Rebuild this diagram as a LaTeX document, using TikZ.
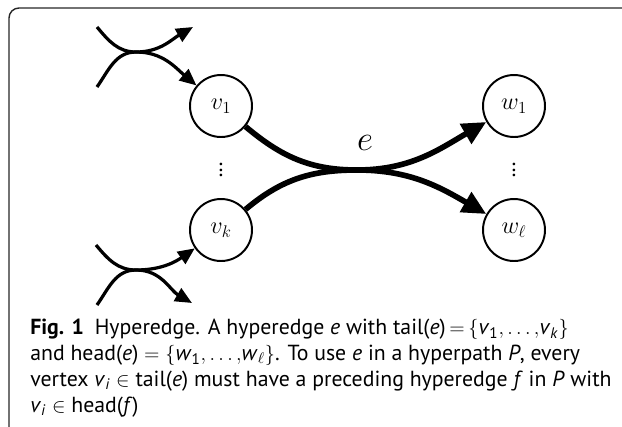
\documentclass[tikz,border=0pt]{standalone}
\usepackage{fontspec}
\setmainfont{PT Sans}
\usepackage{tikz}
\usetikzlibrary{
    arrows.meta,
    positioning
}
\newcommand{\sub}[2]{\textit{#1}\textsubscript{#2}}

\begin{document}
\begin{tikzpicture} [
    vertex/.style={circle,draw=black,line width=1.4pt,fill=white,
                  inner sep=0pt,minimum size=15.5mm,font=\fontsize{18}{22}\selectfont},
    hyper/.style={line width=4pt,-{Triangle[length=6mm,width=5.5mm]}},
    feed/.style={line width=2.3pt,-{Triangle[length=4.2mm,width=3.6mm]}},
    caption/.style={align=left,inner sep=0pt,
                  font=\fontsize{15.5}{18.4}\selectfont}
]
    \useasboundingbox (0,0) rectangle (15.55,-10.675);
    % outer frame, cut off at the right and bottom
    \begin{scope}
        \clip (0,0) rectangle (15.55,-10.675);
        \draw[black!85,line width=1pt,rounded corners=2.5mm]
            (0.225,-0.2) rectangle (16.5,-11.5);
    \end{scope}

    \node[vertex] (v1) at ( 5.525,-2.65) {$v_1$};
    \node[vertex] (vk) at ( 5.525,-5.75) {$v_k$};
    \node[vertex] (w1) at (12.85, -2.65) {$w_1$};
    \node[vertex] (wl) at (12.85, -5.75) {$w_\ell$};
    \node (v dots) at ( 5.525,-4.15) {\fontsize{16}{16}\selectfont$\vdots$};
    \node (w dots) at (12.85, -4.15) {\fontsize{16}{16}\selectfont$\vdots$};

    % the hyperedge e
    \coordinate (hub) at (8.925,-4.25);
    \draw[hyper] (v1) to[out=-40,in=180] (hub) to[out=0,in=210] (w1);
    \draw[hyper] (vk) to[out=40,in=180]  (hub) to[out=0,in=150] (wl);
    \node (e) at (9.125,-3.575) {\fontsize{26}{30}\selectfont$e$};

    % incoming hyperedges at v1
    \coordinate (top in a)  at (2.425,-0.675);
    \coordinate (top in b)  at (2.425,-2.175);
    \coordinate (top cross) at (3.4,-1.3);
    \coordinate (top out)   at (4.825,-0.675);
    \draw[feed] (top in a) to[out=-50,in=180] (top cross) to[out=0,in=210] (top out);
    \draw[feed] (top in b) to[out=55,in=180]  (top cross) to[out=0,in=140] (v1);

    % incoming hyperedges at vk
    \coordinate (bot in a)  at (2.4,-6.125);
    \coordinate (bot in b)  at (2.425,-7.625);
    \coordinate (bot cross) at (3.4,-6.75);
    \coordinate (bot out)   at (4.8,-7.575);
    \draw[feed] (bot in a) to[out=-50,in=180] (bot cross) to[out=0,in=215] (vk);
    \draw[feed] (bot in b) to[out=55,in=180]  (bot cross) to[out=0,in=150] (bot out);

    % caption, placed by the baseline of its last line
    \node[caption,anchor=base west] (caption) at (0.75,-10.3) {%
        \textbf{Fig. 1}\enspace Hyperedge. A hyperedge \textit{e} with tail(\textit{e})\,$=$\,$\{$\sub{v}{1}$,\ldots,$\sub{v}{\textit{k}}$\}$\\
        and head(\textit{e}) $=$ $\{$\sub{w}{1}$,\ldots,$\sub{w}{$\ell$}$\}$. To use \textit{e} in a hyperpath \textit{P}, every\\
        vertex \sub{v}{\textit{i}} $\in$ tail(\textit{e}) must have a preceding hyperedge \textit{f} in \textit{P} with\\
        \sub{v}{\textit{i}} $\in$ head(\textit{f})};
\end{tikzpicture}
\end{document}
